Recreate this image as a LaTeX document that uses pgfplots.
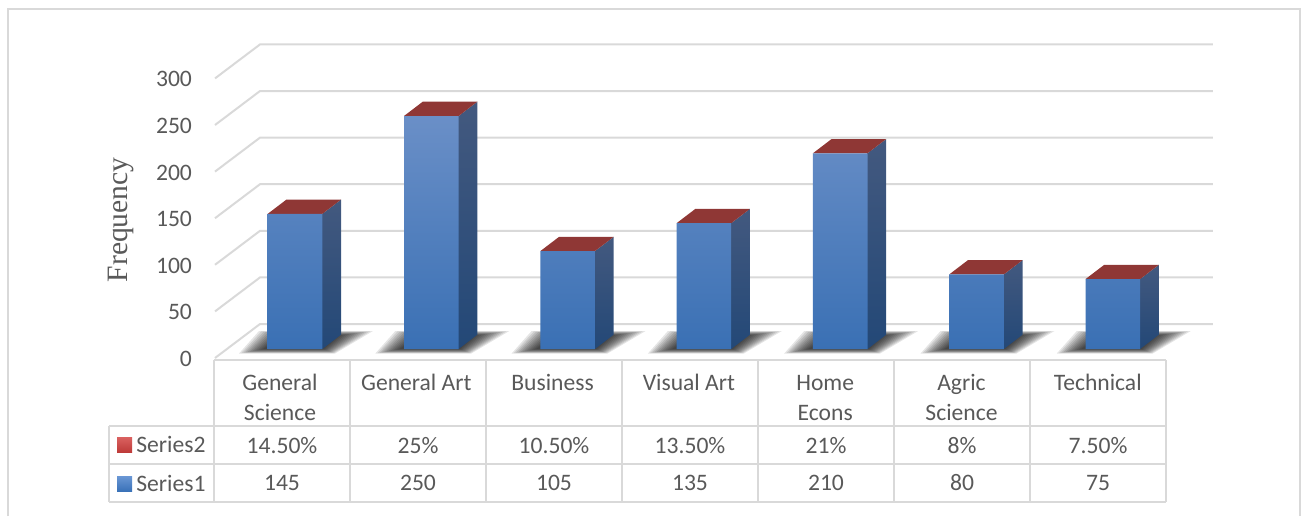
\documentclass[border=0pt]{standalone}
\usepackage{pgfplots}
\usepackage{pgfplotstable}
\usepackage{fontspec}
\pgfplotsset{compat=1.18}
\setmainfont{Carlito}
\newfontfamily\serifcap{Liberation Serif}
\definecolor{txt}{HTML}{595959}
\definecolor{gridc}{HTML}{D9D9D9}
\pgfplotstableread{
idx value
0 145
1 250
2 105
3 135
4 210
5 80
6 75
}\seriesone
% px-to-axis helpers: x = (px-295)/136.3 , y = (349-py)/0.932
\newcommand{\gridlevel}[1]{%
  \pgfmathsetmacro\ga{#1-9.66}\pgfmathsetmacro\gb{#1+26.8}%
  \edef\temp{\noexpand\addplot[draw=gridc,line width=1pt,no marks] coordinates {(-0.587,\ga) (-0.2568,\gb) (6.735,\gb)};}\temp}
\newcommand{\shadowlayer}[2]{% category, layer k
  \pgfmathsetmacro\xa{#1+(-56+2.2*#2)/136.3}\pgfmathsetmacro\ya{(349-(353.5-0.4*#2))/0.932}%
  \pgfmathsetmacro\xb{#1+(-36+2.2*#2)/136.3}\pgfmathsetmacro\yb{(349-(331+0.4*#2))/0.932}%
  \pgfmathsetmacro\xc{#1+(78-3*#2)/136.3}%
  \pgfmathsetmacro\xd{#1+(40-#2)/136.3}%
  \edef\temp{\noexpand\addplot[draw=none,fill=black,fill opacity=0.1,no marks] coordinates {(\xa,\ya) (\xb,\yb) (\xc,\yb) (\xd,\ya)} -- cycle;}\temp}
\newcommand{\shadowall}[1]{%
  \shadowlayer{#1}{0}\shadowlayer{#1}{1}\shadowlayer{#1}{2}\shadowlayer{#1}{3}\shadowlayer{#1}{4}\shadowlayer{#1}{5}%
  \shadowlayer{#1}{6}\shadowlayer{#1}{7}\shadowlayer{#1}{8}\shadowlayer{#1}{9}\shadowlayer{#1}{10}\shadowlayer{#1}{11}}
\newcommand{\barsides}[2]{%
  \pgfmathsetmacro\xl{#1-0.2003}\pgfmathsetmacro\xr{#1+0.2003}%
  \pgfmathsetmacro\xbr{#1+0.3375}\pgfmathsetmacro\xbl{#1-0.0631}%
  \pgfmathsetmacro\yt{#2+15.3}%
  \edef\temp{\noexpand\addplot[draw=none,top color=sideT,bottom color=sideB,no marks] coordinates {(\xr,0) (\xr,#2) (\xbr,\yt) (\xbr,15.3)} -- cycle;}\temp
  \edef\temp{\noexpand\addplot[draw=none,fill=topC,no marks] coordinates {(\xl,#2) (\xr,#2) (\xbr,\yt) (\xbl,\yt)} -- cycle;}\temp}
\definecolor{sideT}{HTML}{43597F}
\definecolor{sideB}{HTML}{234877}
\definecolor{topC}{HTML}{8F3735}
\definecolor{frontT}{HTML}{6A8FC7}
\definecolor{frontB}{HTML}{3A70B4}
\definecolor{redT}{HTML}{D9605F}
\definecolor{redB}{HTML}{BE3B39}
\definecolor{blueT}{HTML}{6A97D5}
\definecolor{blueB}{HTML}{3A72B8}
\begin{document}
\begin{tikzpicture}
\useasboundingbox (0,0) rectangle (653pt,-258pt);
\begin{axis}[
  at={(0,-258pt)},anchor=south west,
  scale only axis,width=653pt,height=258pt,
  xmin=-2.1644,xmax=7.4175,ymin=-179.2,ymax=374.46,
  clip=false,
  axis line style={draw=none},
  tick style={draw=none},
  /pgf/number format/assume math mode=true,
  ytick={0,50,100,150,200,250,300},
  xtick={0,1,2,3,4,5,6},
  xticklabels={\strut General\\Science,\strut General Art,\strut Business,\strut Visual Art,\strut Home\\Econs,\strut Agric\\Science,\strut Technical},
  xticklabel style={font=\fontsize{11.8}{15}\selectfont,text=txt,align=center,anchor=north,xshift=-7.5pt,yshift=77pt},
  yticklabel style={font=\fontsize{11.8}{15}\selectfont,text=txt,anchor=east,xshift=99.5pt,yshift=-5pt},
  ylabel={Frequency},
  ylabel style={at={(axis description cs:0.0927,0.574)},anchor=center,rotate=0,font=\serifcap\fontsize{14.8}{16}\selectfont,text=txt},
]
\gridlevel{0}\gridlevel{50}\gridlevel{100}\gridlevel{150}\gridlevel{200}\gridlevel{250}\gridlevel{300}
\shadowall{0}\shadowall{1}\shadowall{2}\shadowall{3}\shadowall{4}\shadowall{5}\shadowall{6}
\barsides{0}{145}\barsides{1}{250}\barsides{2}{105}\barsides{3}{135}\barsides{4}{210}\barsides{5}{80}\barsides{6}{75}
\addplot[ybar,bar width=27.3pt,bar shift=0pt,draw=none,top color=frontT,bottom color=frontB] table[x=idx,y=value] {\seriesone};
\end{axis}
\begin{scope}[x=0.5pt,y=-0.5pt]
  % outer frame
  \draw[gridc,line width=1.1pt] (8,516) -- (8,9) -- (1300,9) -- (1300,516);
  % data table
  \draw[gridc,line width=1pt] (214,360) -- (1166,360);
  \draw[gridc,line width=1pt] (109,426) -- (1166,426);
  \draw[gridc,line width=1pt] (109,464) -- (1166,464);
  \draw[gridc,line width=1pt] (109,502) -- (1166,502);
  \draw[gridc,line width=1pt] (109,426) -- (109,502);
  \foreach \x in {214,350,486,622,758,894,1030,1166}
    \draw[gridc,line width=1pt] (\x,360) -- (\x,502);
  % legend keys
  \shade[top color=redT,bottom color=redB] (117,437.5) rectangle (132,452);
  \shade[top color=blueT,bottom color=blueB] (117,476) rectangle (132,491);
  \begin{scope}[every node/.style={font=\fontsize{11.8}{15}\selectfont,text=txt,inner sep=0pt}]
    \node[anchor=west] at (136,444) {Series2};
    \node[anchor=west] at (136,483) {Series1};
    \foreach \x/\s in {282/14.50\%,418/25\%,554/10.50\%,690/13.50\%,826/21\%,962/8\%,1098/7.50\%}
      \node at (\x,446) {\s};
    \foreach \x/\s in {282/145,418/250,554/105,690/135,826/210,962/80,1098/75}
      \node at (\x,483) {\s};
  \end{scope}
\end{scope}
\end{tikzpicture}
\end{document}
